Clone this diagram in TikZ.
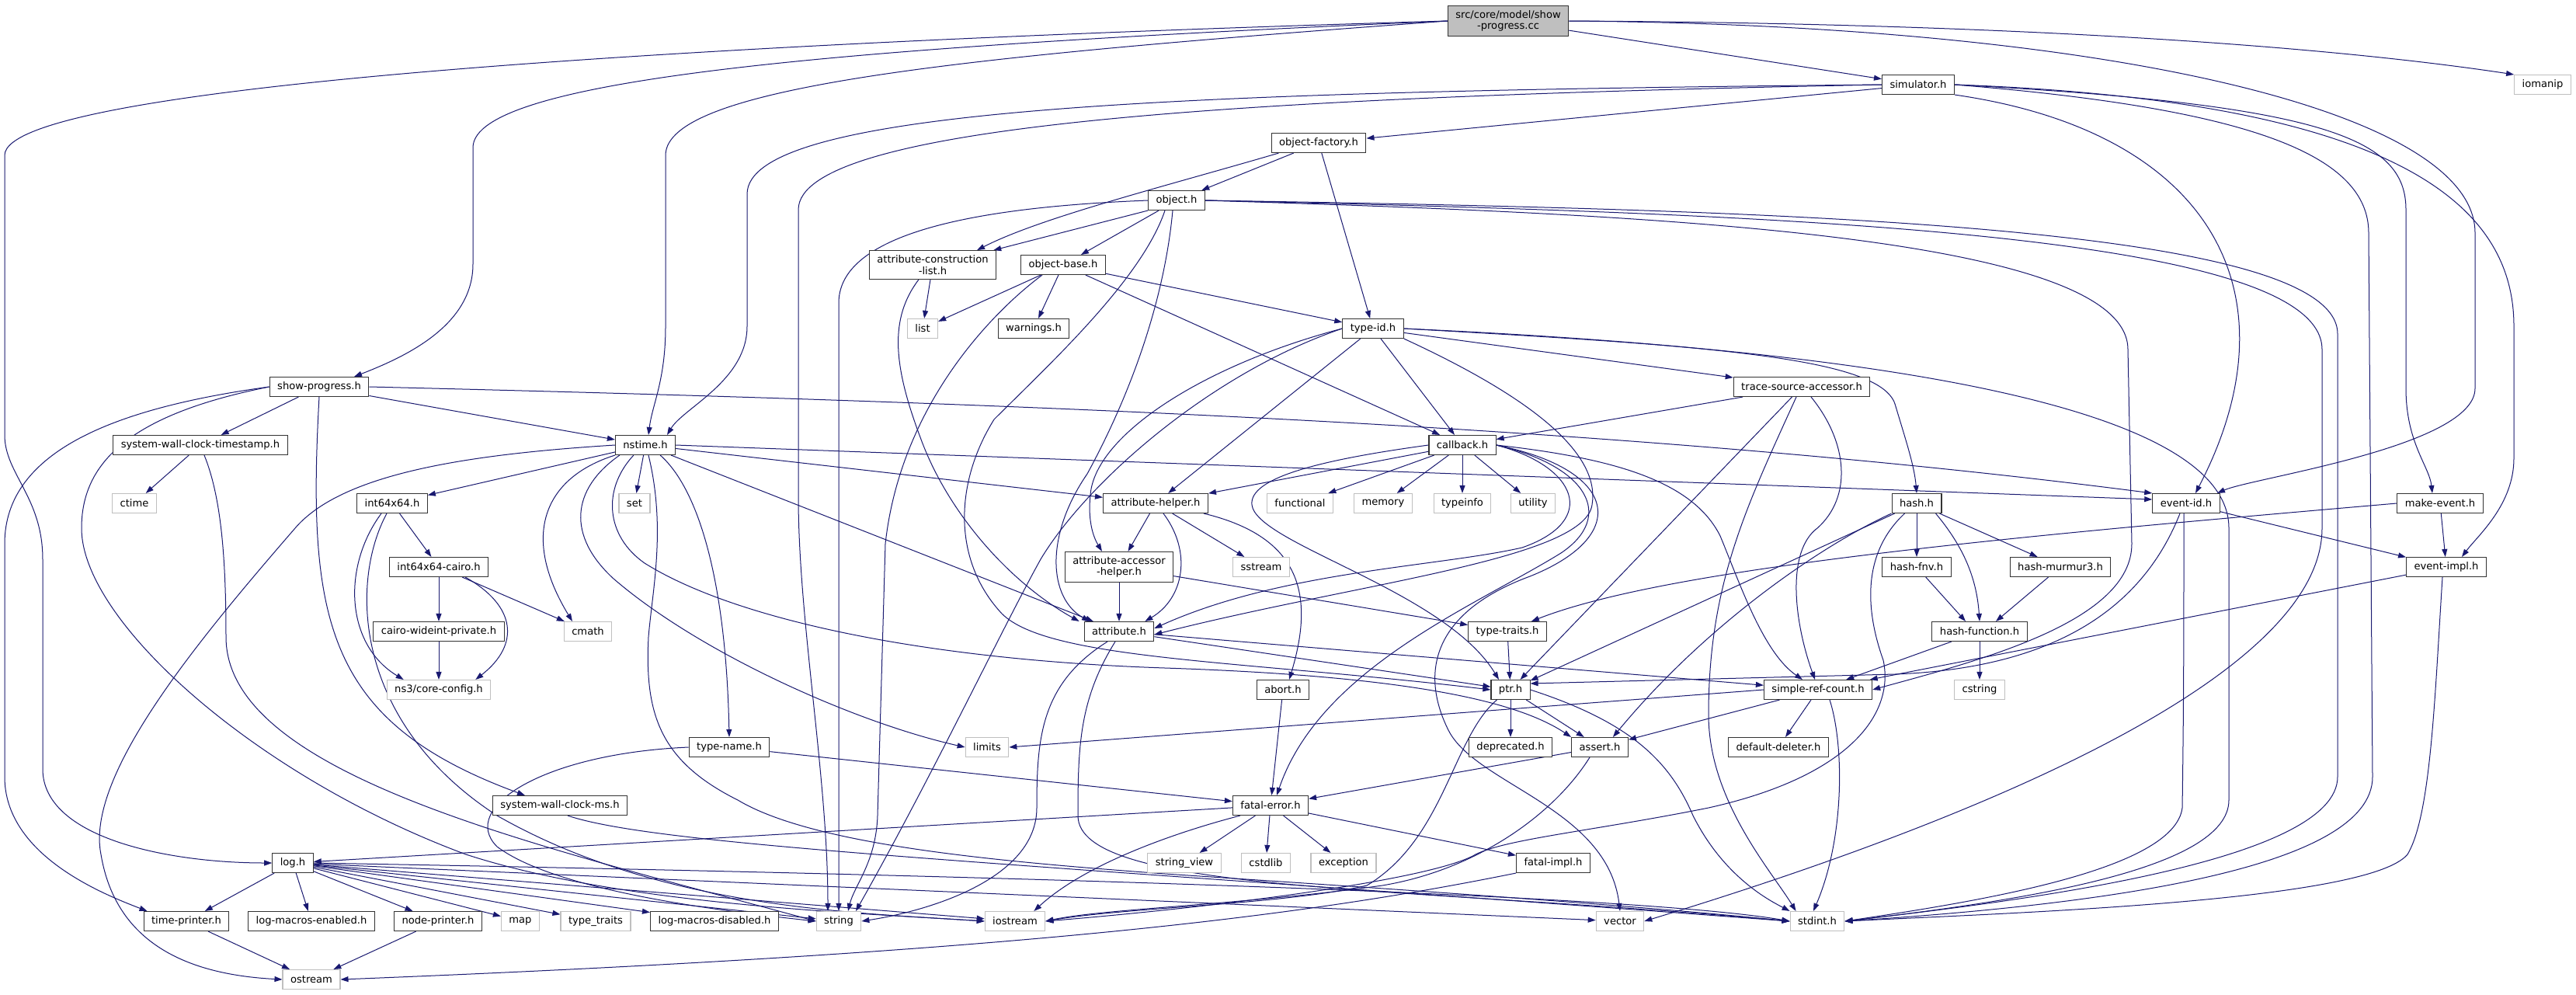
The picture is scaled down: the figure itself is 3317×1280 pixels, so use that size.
\documentclass[tikz,border=0pt]{standalone}
\usepackage{fontspec}
\setmainfont{DejaVu Sans}
\usetikzlibrary{arrows.meta,calc,backgrounds}
\definecolor{edgec}{HTML}{191970}
\definecolor{gbord}{HTML}{BFBFBF}
\begin{document}
\begin{tikzpicture}[x=1pt,y=-1pt,
  every node/.style={font=\fontsize{13.1}{14.5}\selectfont, inner xsep=10pt, inner ysep=6pt, minimum height=25pt, align=center, line width=1.1pt},
  nb/.style={draw=black!80, fill=white},
  ng/.style={draw=gbord, fill=white},
  nr/.style={draw=black!80, fill=gbord},
  e/.style={draw=edgec, line width=1pt, -{Triangle[length=10pt,width=7pt]}}
]
\useasboundingbox (0,0) rectangle (3317,1280);
% ---------------- nodes
\node[nr] (cc) at (1942,27) {src/core/model/show\\-progress.cc};
\node[nb] (simulator) at (2470,109) {simulator.h};
\node[ng] (iomanip) at (3274,109) {iomanip};
\node[nb] (objfactory) at (1698,184) {object-factory.h};
\node[nb] (object) at (1515,258) {object.h};
\node[nb] (acl) at (1201,341) {attribute-construction\\-list.h};
\node[nb] (objbase) at (1369,341) {object-base.h};
\node[ng] (list) at (1188,423) {list};
\node[nb] (warnings) at (1331,423) {warnings.h};
\node[nb] (typeid) at (1768,423) {type-id.h};
\node[nb] (showprog) at (411,498) {show-progress.h};
\node[nb] (tsa) at (2320,498) {trace-source-accessor.h};
\node[nb] (swct) at (258,573) {system-wall-clock-timestamp.h};
\node[nb] (nstime) at (831,573) {nstime.h};
\node[nb] (callback) at (1883,573) {callback.h};
\node[ng] (ctime) at (173,648) {ctime};
\node[nb] (int64) at (505,648) {int64x64.h};
\node[ng] (set) at (817,648) {set};
\node[nb] (attrhelper) at (1488,648) {attribute-helper.h};
\node[ng] (functional) at (1674,648) {functional};
\node[ng] (memory) at (1781,648) {memory};
\node[ng] (typeinfo) at (1883,648) {typeinfo};
\node[ng] (utility) at (1974,648) {utility};
\node[nb] (hash) at (2468,648) {hash.h};
\node[nb] (eventid) at (2815,648) {event-id.h};
\node[nb] (makeevent) at (3142,648) {make-event.h};
\node[nb] (cairo) at (565,730) {int64x64-cairo.h};
\node[nb] (aah) at (1441,730) {attribute-accessor\\-helper.h};
\node[ng] (sstream) at (1624,730) {sstream};
\node[nb] (hashfnv) at (2468,730) {hash-fnv.h};
\node[nb] (murmur) at (2653,730) {hash-murmur3.h};
\node[nb] (eventimpl) at (3150,730) {event-impl.h};
\node[nb] (wideint) at (565,813) {cairo-wideint-private.h};
\node[ng] (cmath) at (757,813) {cmath};
\node[nb] (attribute) at (1441,813) {attribute.h};
\node[nb] (typetraits) at (1941,813) {type-traits.h};
\node[nb] (hashfunc) at (2549,813) {hash-function.h};
\node[ng] (coreconfig) at (565,888) {ns3/core-config.h};
\node[nb] (abort) at (1652,888) {abort.h};
\node[nb] (ptr) at (1945,888) {ptr.h};
\node[nb] (src) at (2341,888) {simple-ref-count.h};
\node[ng] (cstring) at (2549,888) {cstring};
\node[nb] (typename) at (939,962) {type-name.h};
\node[ng] (limits) at (1271,962) {limits};
\node[nb] (deprecated) at (1945,962) {deprecated.h};
\node[nb] (assert) at (2060,962) {assert.h};
\node[nb] (deleter) at (2290,962) {default-deleter.h};
\node[nb] (swcms) at (721,1037) {system-wall-clock-ms.h};
\node[nb] (fatalerror) at (1636,1037) {fatal-error.h};
\node[nb] (log) at (377,1111) {log.h};
\node[ng] (stringview) at (1525,1111) {string\_view};
\node[ng] (cstdlib) at (1630,1111) {cstdlib};
\node[ng] (exception) at (1730,1111) {exception};
\node[nb] (fatalimpl) at (2000,1111) {fatal-impl.h};
\node[nb] (timeprinter) at (240,1186) {time-printer.h};
\node[nb] (lme) at (401,1186) {log-macros-enabled.h};
\node[nb] (nodeprinter) at (564,1186) {node-printer.h};
\node[ng] (map) at (670,1186) {map};
\node[ng] (typetraitsstd) at (767,1186) {type\_traits};
\node[nb] (lmd) at (920,1186) {log-macros-disabled.h};
\node[ng] (string) at (1080,1186) {string};
\node[ng] (iostream) at (1307,1186) {iostream};
\node[ng] (vector) at (2086,1186) {vector};
\node[ng] (stdint) at (2340,1186) {stdint.h};
\node[ng] (ostream) at (401,1261) {ostream};
% ---------------- edges
\begin{scope}[on background layer]
\fill[white] (0,0) rectangle (3317,1280);
% cc
\draw[e] (cc.west) .. controls (900,55) and (6,110) .. (6,200) -- (6,560) .. controls (6,610) and (55,640) .. (55,720) -- (55,990) .. controls (55,1080) and (220,1111) .. (log.west);
\draw[e] (cc.west) .. controls (1100,60) and (609,100) .. (609,190) -- (609,340) .. controls (609,420) and (520,460) .. ($(showprog.north)+(45,0)$);
\draw[e] (cc.west) .. controls (1250,72) and (857,110) .. (857,200) -- (857,420) .. controls (857,490) and (840,520) .. ($(nstime.north)+(4,0)$);
\draw[e] (cc) -- (simulator);
\draw[e] (cc.east) .. controls (2600,30) and (3000,60) .. (iomanip.north west);
\draw[e] (cc.east) .. controls (2700,32) and (3187,140) .. (3187,300) -- (3187,500) .. controls (3187,575) and (2900,615) .. ($(eventid.north)+(40,0)$);
% simulator
\draw[e] (simulator) -- (objfactory);
\draw[e] (simulator.west) .. controls (1500,118) and (962,140) .. (962,250) -- (962,420) .. controls (962,490) and (880,525) .. ($(nstime.north)+(28,0)$);
\draw[e] (simulator.west) .. controls (1600,125) and (1028,160) .. (1028,270) -- (1028,640) .. controls (1028,800) and (1066,1000) .. ($(string.north)+(-14,0)$);
\draw[e] (simulator.south east) .. controls (2850,170) and (2960,380) .. ($(eventid.north)+(12,0)$);
\draw[e] (simulator.east) .. controls (2900,140) and (3050,200) .. (3050,300) -- (3055,1000) .. controls (3055,1120) and (2700,1165) .. (stdint.east);
\draw[e] (simulator.east) .. controls (3000,135) and (3098,180) .. (3098,270) -- (3098,500) .. controls (3098,570) and (3128,600) .. ($(makeevent.north)+(-10,0)$);
\draw[e] (simulator.east) .. controls (3100,130) and (3237,270) .. (3237,420) -- (3237,590) .. controls (3237,650) and (3190,690) .. ($(eventimpl.north)+(20,0)$);
% showprog
\draw[e] (showprog) -- (swct);
\draw[e] (showprog) -- (nstime);
\draw[e] (showprog.east) .. controls (1300,518) and (2100,548) .. (eventid.north west);
\draw[e] (showprog.south) .. controls (395,800) and (420,930) .. ($(swcms.north)+(-45,0)$);
\draw[e] (showprog.west) .. controls (150,525) and (6,580) .. (6,700) -- (6,1000) .. controls (6,1100) and (130,1150) .. ($(timeprinter.north west)+(5,0)$);
\draw[e] (showprog.west) .. controls (160,535) and (105,600) .. (105,680) .. controls (105,800) and (330,1000) .. (600,1100) .. controls (800,1165) and (1100,1175) .. (iostream.west);
% swct
\draw[e] (swct) -- (ctime);
\draw[e] ($(swct.south)+(5,0)$) .. controls (285,640) and (291,720) .. (291,820) .. controls (291,1000) and (700,1090) .. (string.west);
% nstime
\draw[e] (nstime) -- (int64);
\draw[e] (nstime) -- (set);
\draw[e] (nstime.west) .. controls (600,585) and (440,610) .. (380,680) .. controls (250,830) and (110,1000) .. (130,1100) .. controls (150,1220) and (250,1255) .. (ostream.west);
\draw[e] (nstime.south west) .. controls (700,615) and (670,690) .. ($(cmath.north)+(-20,0)$);
\draw[e] ($(nstime.south west)+(6,0)$) .. controls (735,630) and (730,690) .. (790,745) .. controls (900,840) and (1100,930) .. (limits.west);
\draw[e] ($(nstime.south west)+(24,0)$) .. controls (775,630) and (780,690) .. (830,725) .. controls (950,800) and (1200,850) .. (1500,860) .. controls (1800,870) and (1950,900) .. (assert.north west);
\draw[e] ($(nstime.south)+(4,0)$) .. controls (858,680) and (840,760) .. (835,820) .. controls (830,920) and (850,980) .. (950,1030) .. controls (1050,1090) and (1300,1110) .. (1500,1125) .. controls (1800,1145) and (2100,1165) .. (stdint.west);
\draw[e] ($(nstime.south east)+(-20,0)$) .. controls (900,630) and (935,750) .. (typename.north);
\draw[e] (nstime) -- (attribute);
\draw[e] (nstime.east) -- ($(eventid.west)+(0,-5)$);
\draw[e] (nstime) -- (attrhelper);
% int64 & co
\draw[e] (int64) -- (cairo);
\draw[e] ($(int64.south)+(-14,0)$) .. controls (440,730) and (445,830) .. ($(coreconfig.north west)+(22,0)$);
\draw[e] ($(int64.south)+(-7,0)$) .. controls (450,750) and (455,930) .. (640,1050) .. controls (850,1170) and (1100,1175) .. (iostream.west);
\draw[e] (cairo) -- (wideint);
\draw[e] (cairo) -- (cmath);
\draw[e] ($(cairo.south east)+(-30,0)$) .. controls (665,780) and (670,830) .. ($(coreconfig.north east)+(-20,0)$);
\draw[e] (wideint) -- (coreconfig);
% typename, swcms
\draw[e] (typename) -- (fatalerror);
\draw[e] (typename.west) .. controls (700,970) and (590,1040) .. (640,1090) .. controls (720,1150) and (950,1175) .. (string.west);
\draw[e] ($(swcms.south)+(10,0)$) .. controls (850,1090) and (1300,1110) .. (stdint.west);
% log
\draw[e] (log) -- (timeprinter);
\draw[e] (log) -- (lme);
\draw[e] (log) -- (nodeprinter);
\draw[e] (log) -- (map);
\draw[e] (log) -- (typetraitsstd);
\draw[e] (log) -- (lmd);
\draw[e] (log) -- (string);
\draw[e] (log) -- (iostream);
\draw[e] (log) -- (vector);
\draw[e] (log.east) .. controls (1200,1125) and (2100,1150) .. (stdint.west);
\draw[e] (timeprinter) -- (ostream);
\draw[e] (nodeprinter) -- (ostream);
% fatal
\draw[e] (fatalerror) -- (log);
\draw[e] (fatalerror) -- (stringview);
\draw[e] (fatalerror) -- (cstdlib);
\draw[e] (fatalerror) -- (exception);
\draw[e] (fatalerror) -- (fatalimpl);
\draw[e] ($(fatalerror.south west)+(10,0)$) .. controls (1520,1070) and (1400,1110) .. ($(iostream.north east)+(-15,0)$);
\draw[e] (fatalimpl.south west) .. controls (1700,1175) and (1350,1225) .. (ostream.east);
\draw[e] (abort) -- (fatalerror);
% assert, ptr, src
\draw[e] (assert) -- (fatalerror);
\draw[e] ($(assert.south)+(-13,0)$) .. controls (2000,1050) and (1900,1120) .. (1780,1140) .. controls (1600,1165) and (1420,1170) .. (iostream.east);
\draw[e] (ptr) -- (deprecated);
\draw[e] (ptr) -- (assert);
\draw[e] ($(ptr.south west)+(8,0)$) .. controls (1870,950) and (1860,1080) .. (1760,1140) .. controls (1650,1165) and (1450,1168) .. (iostream.east);
\draw[e] (ptr.east) .. controls (2100,930) and (2150,980) .. (2180,1050) .. controls (2220,1130) and (2280,1160) .. (stdint.north west);
\draw[e] (src) -- (deleter);
\draw[e] ($(src.south)+(15,0)$) .. controls (2375,960) and (2375,1080) .. ($(stdint.north)+(-5,0)$);
\draw[e] (src) -- (assert);
\draw[e] (src.west) -- (limits.east);
% attribute
\draw[e] (attribute) -- (ptr);
\draw[e] (attribute) -- (src);
\draw[e] ($(attribute.south)+(-15,0)$) .. controls (1340,880) and (1335,950) .. (1335,1040) .. controls (1335,1130) and (1200,1172) .. (string.east);
\draw[e] ($(attribute.south)+(-5,0)$) .. controls (1390,900) and (1388,960) .. (1388,1050) .. controls (1388,1150) and (1800,1140) .. (stdint.west);
\draw[e] (aah) -- (attribute);
\draw[e] (aah) -- (typetraits);
% attribute-helper
\draw[e] (attrhelper) -- (aah);
\draw[e] ($(attrhelper.south)+(10,0)$) .. controls (1535,710) and (1525,770) .. ($(attribute.north east)+(-12,0)$);
\draw[e] (attrhelper) -- (sstream);
\draw[e] ($(attrhelper.south east)+(-6,0)$) .. controls (1670,690) and (1695,760) .. ($(abort.north)+(8,0)$);
% callback
\draw[e] (callback) -- (attrhelper);
\draw[e] (callback) -- (functional);
\draw[e] (callback) -- (memory);
\draw[e] (callback) -- (typeinfo);
\draw[e] (callback) -- (utility);
\draw[e] (callback.west) .. controls (1700,592) and (1608,615) .. (1612,650) .. controls (1618,700) and (1860,760) .. ($(ptr.north)+(-15,0)$);
\draw[e] (callback.east) .. controls (2030,600) and (2060,670) .. (1960,705) .. controls (1850,730) and (1650,735) .. ($(attribute.east)+(0,-4)$);
\draw[e] (callback.east) .. controls (2045,600) and (2080,665) .. (2010,712) .. controls (1900,780) and (1700,860) .. ($(fatalerror.north)+(8,0)$);
\draw[e] (callback.east) .. controls (2085,605) and (2100,690) .. (1970,742) .. controls (1840,790) and (1830,870) .. (1865,940) .. controls (1900,1010) and (2070,1040) .. (vector.north);
\draw[e] (callback.east) .. controls (2080,590) and (2180,620) .. (2215,690) .. controls (2240,750) and (2270,840) .. ($(src.north)+(-20,0)$);
% type-id
\draw[e] (typeid) -- (callback);
\draw[e] (typeid) -- (attrhelper);
\draw[e] (typeid.west) .. controls (1550,470) and (1410,560) .. (1404,637) .. controls (1400,675) and (1410,695) .. ($(aah.north)+(-22,0)$);
\draw[e] (typeid.west) .. controls (1560,480) and (1400,620) .. (1340,720) .. controls (1290,810) and (1200,1000) .. ($(string.north)+(22,0)$);
\draw[e] (typeid.south east) .. controls (1990,520) and (2060,590) .. (2050,650) .. controls (2040,720) and (1750,750) .. ($(attribute.east)+(0,4)$);
\draw[e] (typeid) -- (tsa);
\draw[e] (typeid.east) .. controls (2200,445) and (2420,460) .. (2440,520) .. controls (2455,570) and (2465,600) .. (hash.north);
\draw[e] (typeid.east) .. controls (2400,450) and (2870,520) .. (2870,680) -- (2870,1030) .. controls (2870,1120) and (2600,1160) .. (stdint.east);
% object-factory, object
\draw[e] (objfactory) -- (object);
\draw[e] (objfactory) -- (typeid);
\draw[e] ($(objfactory.south west)+(10,0)$) .. controls (1500,240) and (1340,280) .. ($(acl.north)+(57,0)$);
\draw[e] (object.south west) -- ($(acl.north east)+(-4,0)$);
\draw[e] (object) -- (objbase);
\draw[e] (object.west) .. controls (1300,265) and (1080,290) .. (1080,390) -- (string.north);
\draw[e] ($(object.south)+(-5,0)$) .. controls (1500,380) and (1460,500) .. (1400,610) .. controls (1345,690) and (1350,770) .. ($(attribute.north)+(-38,0)$);
\draw[e] ($(object.south)+(-15,0)$) .. controls (1470,360) and (1350,470) .. (1280,540) .. controls (1230,620) and (1225,720) .. (1290,790) .. controls (1350,850) and (1600,850) .. (ptr.west);
\draw[e] (object.east) .. controls (2100,275) and (2740,300) .. (2740,450) -- (2745,700) .. controls (2745,800) and (2550,850) .. (src.east);
\draw[e] (object.east) .. controls (2300,275) and (2990,300) .. (2990,450) -- (2990,680) .. controls (2990,900) and (2400,1100) .. (vector.east);
\draw[e] (object.east) .. controls (2300,270) and (3010,290) .. (3010,430) -- (3010,1000) .. controls (3010,1110) and (2600,1160) .. (stdint.east);
% acl, object-base
\draw[e] (acl) -- (list);
\draw[e] ($(acl.south)+(-18,0)$) .. controls (1145,410) and (1150,470) .. (1185,563) .. controls (1220,660) and (1300,750) .. ($(attribute.north west)+(-6,0)$);
\draw[e] (objbase) -- (list);
\draw[e] (objbase) -- (warnings);
\draw[e] (objbase) -- (typeid);
\draw[e] (objbase) -- (callback);
\draw[e] ($(objbase.south west)+(28,0)$) .. controls (1280,400) and (1160,520) .. (1140,700) -- (1130,1050) .. controls (1128,1110) and (1100,1140) .. ($(string.north)+(12,0)$);
% trace-source-accessor
\draw[e] (tsa) -- (callback);
\draw[e] (tsa) -- (ptr);
\draw[e] ($(tsa.south)+(12,0)$) .. controls (2380,570) and (2385,640) .. (2340,680) .. controls (2300,710) and (2310,800) .. ($(src.north)+(-4,0)$);
\draw[e] ($(tsa.south)+(-7,0)$) .. controls (2250,650) and (2200,750) .. (2200,920) .. controls (2200,1030) and (2280,1120) .. ($(stdint.north west)+(8,0)$);
% hash
\draw[e] (hash) -- (hashfnv);
\draw[e] (hash) -- (murmur);
\draw[e] ($(hash.south east)+(-8,0)$) .. controls (2525,700) and (2545,740) .. (hashfunc.north);
\draw[e] (hash) -- (ptr);
\draw[e] (hash.south west) .. controls (2350,700) and (2200,800) .. ($(assert.north east)+(-20,0)$);
\draw[e] ($(hash.south west)+(17,0)$) .. controls (2400,710) and (2400,780) .. (2425,850) .. controls (2440,920) and (2380,1000) .. (2200,1040) .. controls (2050,1070) and (1940,1080) .. (1900,1100) .. controls (1850,1130) and (1600,1165) .. (iostream.east);
\draw[e] (hashfnv) -- ($(hashfunc.north)+(-18,0)$);
\draw[e] (murmur) -- ($(hashfunc.north)+(21,0)$);
\draw[e] (hashfunc) -- (src);
\draw[e] (hashfunc) -- (cstring);
% events
\draw[e] (eventid) -- (eventimpl);
\draw[e] ($(eventid.south)+(-8,0)$) .. controls (2760,780) and (2650,860) .. (2440,868) -- ($(ptr.east)+(0,-8)$);
\draw[e] ($(eventid.south)+(-3,0)$) .. controls (2812,800) and (2812,900) .. (2810,1040) .. controls (2800,1120) and (2550,1160) .. (stdint.east);
\draw[e] (eventimpl) -- (src);
\draw[e] ($(eventimpl.south)+(-5,0)$) .. controls (3135,900) and (3130,1050) .. (3100,1100) .. controls (3050,1160) and (2600,1175) .. (stdint.east);
\draw[e] (makeevent) -- (eventimpl);
\draw[e] (makeevent.west) .. controls (2600,690) and (2150,730) .. ($(typetraits.north east)+(-20,0)$);
\draw[e] (typetraits) -- (ptr);
\end{scope}
\end{tikzpicture}
\end{document}
